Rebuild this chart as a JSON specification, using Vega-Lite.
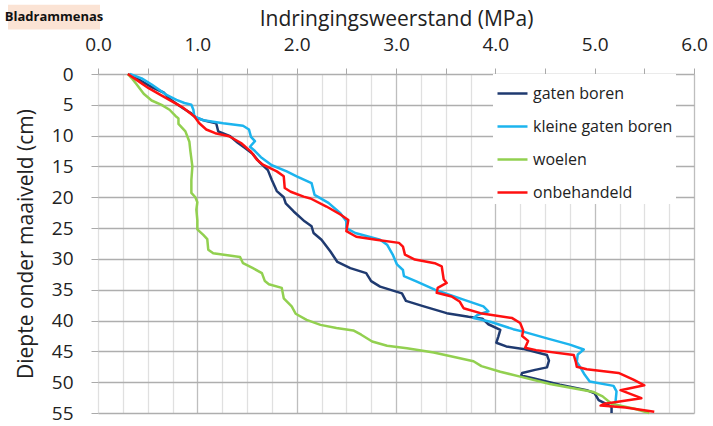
{
  "$schema": "https://vega.github.io/schema/vega-lite/v6.json",
  "width": 596,
  "height": 339,
  "autosize": "none",
  "padding": {"left": 98, "top": 74, "right": 19, "bottom": 13},
  "background": "white",
  "config": {"view": {"stroke": null}, "font": "Open Sans", "axis": {"labelFlush": false}},
  "layer": [
    {
      "data": {"values": [
    {"s":"gaten boren","x":0.30,"d":0},{"s":"gaten boren","x":0.42,"d":1.0},{"s":"gaten boren","x":0.55,"d":2.2},{"s":"gaten boren","x":0.66,"d":3.0},{"s":"gaten boren","x":0.72,"d":4.0},{"s":"gaten boren","x":0.78,"d":4.7},{"s":"gaten boren","x":0.86,"d":5.6},{"s":"gaten boren","x":0.93,"d":6.3},{"s":"gaten boren","x":0.99,"d":7.1},{"s":"gaten boren","x":1.08,"d":7.6},{"s":"gaten boren","x":1.19,"d":8.0},{"s":"gaten boren","x":1.21,"d":9.3},{"s":"gaten boren","x":1.33,"d":10.1},{"s":"gaten boren","x":1.41,"d":11.2},{"s":"gaten boren","x":1.48,"d":12.0},{"s":"gaten boren","x":1.56,"d":13.0},{"s":"gaten boren","x":1.62,"d":14.2},{"s":"gaten boren","x":1.71,"d":15.6},{"s":"gaten boren","x":1.75,"d":17.2},{"s":"gaten boren","x":1.80,"d":19.0},{"s":"gaten boren","x":1.87,"d":20.0},{"s":"gaten boren","x":1.89,"d":21.0},{"s":"gaten boren","x":1.97,"d":22.3},{"s":"gaten boren","x":2.08,"d":23.9},{"s":"gaten boren","x":2.15,"d":24.7},{"s":"gaten boren","x":2.17,"d":25.8},{"s":"gaten boren","x":2.25,"d":26.9},{"s":"gaten boren","x":2.34,"d":28.8},{"s":"gaten boren","x":2.41,"d":30.5},{"s":"gaten boren","x":2.54,"d":31.5},{"s":"gaten boren","x":2.70,"d":32.3},{"s":"gaten boren","x":2.75,"d":33.6},{"s":"gaten boren","x":2.84,"d":34.5},{"s":"gaten boren","x":3.06,"d":35.6},{"s":"gaten boren","x":3.10,"d":36.8},{"s":"gaten boren","x":3.28,"d":37.7},{"s":"gaten boren","x":3.51,"d":38.8},{"s":"gaten boren","x":3.73,"d":39.4},{"s":"gaten boren","x":3.87,"d":39.7},{"s":"gaten boren","x":3.93,"d":40.6},{"s":"gaten boren","x":4.05,"d":41.5},{"s":"gaten boren","x":4.03,"d":42.6},{"s":"gaten boren","x":4.01,"d":43.6},{"s":"gaten boren","x":4.11,"d":44.2},{"s":"gaten boren","x":4.28,"d":44.6},{"s":"gaten boren","x":4.52,"d":45.6},{"s":"gaten boren","x":4.54,"d":46.5},{"s":"gaten boren","x":4.52,"d":47.6},{"s":"gaten boren","x":4.40,"d":48.0},{"s":"gaten boren","x":4.27,"d":48.5},{"s":"gaten boren","x":4.26,"d":48.9},{"s":"gaten boren","x":4.39,"d":49.4},{"s":"gaten boren","x":4.65,"d":50.4},{"s":"gaten boren","x":4.92,"d":51.3},{"s":"gaten boren","x":5.00,"d":51.8},{"s":"gaten boren","x":5.04,"d":52.9},{"s":"gaten boren","x":5.10,"d":53.4},{"s":"gaten boren","x":5.17,"d":54.0},{"s":"gaten boren","x":5.17,"d":55.0},
    {"s":"kleine gaten boren","x":0.32,"d":0},{"s":"kleine gaten boren","x":0.44,"d":0.7},{"s":"kleine gaten boren","x":0.54,"d":1.7},{"s":"kleine gaten boren","x":0.62,"d":2.6},{"s":"kleine gaten boren","x":0.69,"d":3.4},{"s":"kleine gaten boren","x":0.79,"d":4.2},{"s":"kleine gaten boren","x":0.87,"d":4.7},{"s":"kleine gaten boren","x":0.94,"d":5.0},{"s":"kleine gaten boren","x":0.96,"d":5.8},{"s":"kleine gaten boren","x":0.97,"d":6.9},{"s":"kleine gaten boren","x":1.06,"d":7.5},{"s":"kleine gaten boren","x":1.26,"d":8.0},{"s":"kleine gaten boren","x":1.46,"d":8.4},{"s":"kleine gaten boren","x":1.52,"d":9.0},{"s":"kleine gaten boren","x":1.54,"d":10.2},{"s":"kleine gaten boren","x":1.58,"d":10.9},{"s":"kleine gaten boren","x":1.53,"d":11.8},{"s":"kleine gaten boren","x":1.58,"d":12.5},{"s":"kleine gaten boren","x":1.64,"d":13.5},{"s":"kleine gaten boren","x":1.75,"d":14.8},{"s":"kleine gaten boren","x":1.90,"d":15.8},{"s":"kleine gaten boren","x":2.00,"d":16.6},{"s":"kleine gaten boren","x":2.15,"d":17.7},{"s":"kleine gaten boren","x":2.18,"d":19.6},{"s":"kleine gaten boren","x":2.32,"d":20.9},{"s":"kleine gaten boren","x":2.44,"d":22.6},{"s":"kleine gaten boren","x":2.50,"d":23.9},{"s":"kleine gaten boren","x":2.50,"d":25.0},{"s":"kleine gaten boren","x":2.59,"d":25.8},{"s":"kleine gaten boren","x":2.84,"d":26.9},{"s":"kleine gaten boren","x":2.91,"d":27.7},{"s":"kleine gaten boren","x":2.97,"d":29.4},{"s":"kleine gaten boren","x":3.01,"d":30.9},{"s":"kleine gaten boren","x":3.07,"d":31.8},{"s":"kleine gaten boren","x":3.08,"d":32.8},{"s":"kleine gaten boren","x":3.21,"d":33.7},{"s":"kleine gaten boren","x":3.39,"d":35.0},{"s":"kleine gaten boren","x":3.68,"d":36.6},{"s":"kleine gaten boren","x":3.88,"d":37.7},{"s":"kleine gaten boren","x":3.93,"d":38.5},{"s":"kleine gaten boren","x":3.82,"d":39.1},{"s":"kleine gaten boren","x":3.78,"d":39.6},{"s":"kleine gaten boren","x":3.95,"d":40.2},{"s":"kleine gaten boren","x":4.18,"d":41.4},{"s":"kleine gaten boren","x":4.28,"d":41.8},{"s":"kleine gaten boren","x":4.52,"d":42.9},{"s":"kleine gaten boren","x":4.75,"d":43.9},{"s":"kleine gaten boren","x":4.89,"d":44.7},{"s":"kleine gaten boren","x":4.83,"d":45.5},{"s":"kleine gaten boren","x":4.82,"d":46.7},{"s":"kleine gaten boren","x":4.86,"d":47.7},{"s":"kleine gaten boren","x":4.90,"d":48.8},{"s":"kleine gaten boren","x":4.95,"d":49.9},{"s":"kleine gaten boren","x":5.19,"d":50.6},{"s":"kleine gaten boren","x":5.22,"d":51.5},{"s":"kleine gaten boren","x":5.21,"d":53.2},{"s":"kleine gaten boren","x":5.18,"d":53.8},
    {"s":"woelen","x":0.30,"d":0},{"s":"woelen","x":0.34,"d":0.7},{"s":"woelen","x":0.39,"d":1.7},{"s":"woelen","x":0.46,"d":3.2},{"s":"woelen","x":0.54,"d":4.3},{"s":"woelen","x":0.64,"d":5.0},{"s":"woelen","x":0.72,"d":5.8},{"s":"woelen","x":0.78,"d":6.8},{"s":"woelen","x":0.81,"d":7.2},{"s":"woelen","x":0.81,"d":8.1},{"s":"woelen","x":0.88,"d":9.3},{"s":"woelen","x":0.92,"d":11.0},{"s":"woelen","x":0.93,"d":12.5},{"s":"woelen","x":0.95,"d":15.0},{"s":"woelen","x":0.94,"d":17.2},{"s":"woelen","x":0.94,"d":19.3},{"s":"woelen","x":0.98,"d":20.0},{"s":"woelen","x":1.00,"d":20.8},{"s":"woelen","x":0.99,"d":22.0},{"s":"woelen","x":1.00,"d":23.7},{"s":"woelen","x":1.00,"d":25.2},{"s":"woelen","x":1.06,"d":26.1},{"s":"woelen","x":1.10,"d":26.8},{"s":"woelen","x":1.11,"d":28.5},{"s":"woelen","x":1.16,"d":29.1},{"s":"woelen","x":1.43,"d":29.7},{"s":"woelen","x":1.46,"d":30.7},{"s":"woelen","x":1.56,"d":31.5},{"s":"woelen","x":1.65,"d":32.3},{"s":"woelen","x":1.68,"d":33.6},{"s":"woelen","x":1.72,"d":34.1},{"s":"woelen","x":1.85,"d":34.7},{"s":"woelen","x":1.87,"d":36.4},{"s":"woelen","x":1.95,"d":37.7},{"s":"woelen","x":1.99,"d":38.9},{"s":"woelen","x":2.10,"d":39.9},{"s":"woelen","x":2.24,"d":40.7},{"s":"woelen","x":2.40,"d":41.2},{"s":"woelen","x":2.57,"d":41.6},{"s":"woelen","x":2.65,"d":42.3},{"s":"woelen","x":2.76,"d":43.4},{"s":"woelen","x":2.91,"d":44.1},{"s":"woelen","x":3.11,"d":44.5},{"s":"woelen","x":3.38,"d":45.2},{"s":"woelen","x":3.78,"d":46.6},{"s":"woelen","x":3.86,"d":47.4},{"s":"woelen","x":4.05,"d":48.3},{"s":"woelen","x":4.25,"d":49.1},{"s":"woelen","x":4.55,"d":50.3},{"s":"woelen","x":4.99,"d":51.6},{"s":"woelen","x":5.08,"d":52.3},{"s":"woelen","x":5.17,"d":53.5},{"s":"woelen","x":5.40,"d":54.3},{"s":"woelen","x":5.55,"d":55.0},
    {"s":"onbehandeld","x":0.30,"d":0},{"s":"onbehandeld","x":0.41,"d":1.2},{"s":"onbehandeld","x":0.51,"d":2.3},{"s":"onbehandeld","x":0.62,"d":3.3},{"s":"onbehandeld","x":0.74,"d":4.4},{"s":"onbehandeld","x":0.86,"d":5.5},{"s":"onbehandeld","x":0.97,"d":6.9},{"s":"onbehandeld","x":1.02,"d":8.0},{"s":"onbehandeld","x":1.09,"d":9.0},{"s":"onbehandeld","x":1.18,"d":9.6},{"s":"onbehandeld","x":1.32,"d":10.1},{"s":"onbehandeld","x":1.44,"d":11.2},{"s":"onbehandeld","x":1.54,"d":12.6},{"s":"onbehandeld","x":1.60,"d":13.9},{"s":"onbehandeld","x":1.66,"d":14.7},{"s":"onbehandeld","x":1.80,"d":15.8},{"s":"onbehandeld","x":1.87,"d":16.6},{"s":"onbehandeld","x":1.88,"d":18.5},{"s":"onbehandeld","x":1.94,"d":19.1},{"s":"onbehandeld","x":2.07,"d":19.9},{"s":"onbehandeld","x":2.14,"d":20.2},{"s":"onbehandeld","x":2.30,"d":21.5},{"s":"onbehandeld","x":2.44,"d":22.8},{"s":"onbehandeld","x":2.52,"d":23.7},{"s":"onbehandeld","x":2.50,"d":25.5},{"s":"onbehandeld","x":2.60,"d":26.4},{"s":"onbehandeld","x":2.80,"d":26.9},{"s":"onbehandeld","x":3.03,"d":27.4},{"s":"onbehandeld","x":3.07,"d":28.0},{"s":"onbehandeld","x":3.09,"d":29.3},{"s":"onbehandeld","x":3.19,"d":30.1},{"s":"onbehandeld","x":3.39,"d":30.7},{"s":"onbehandeld","x":3.46,"d":31.2},{"s":"onbehandeld","x":3.48,"d":33.3},{"s":"onbehandeld","x":3.51,"d":33.9},{"s":"onbehandeld","x":3.42,"d":34.7},{"s":"onbehandeld","x":3.41,"d":35.5},{"s":"onbehandeld","x":3.56,"d":36.1},{"s":"onbehandeld","x":3.64,"d":36.9},{"s":"onbehandeld","x":3.68,"d":38.0},{"s":"onbehandeld","x":3.85,"d":38.8},{"s":"onbehandeld","x":4.17,"d":39.6},{"s":"onbehandeld","x":4.25,"d":40.4},{"s":"onbehandeld","x":4.28,"d":41.6},{"s":"onbehandeld","x":4.27,"d":42.5},{"s":"onbehandeld","x":4.33,"d":43.3},{"s":"onbehandeld","x":4.30,"d":44.4},{"s":"onbehandeld","x":4.41,"d":44.8},{"s":"onbehandeld","x":4.79,"d":45.6},{"s":"onbehandeld","x":4.81,"d":46.7},{"s":"onbehandeld","x":4.82,"d":47.5},{"s":"onbehandeld","x":4.92,"d":47.9},{"s":"onbehandeld","x":5.24,"d":48.5},{"s":"onbehandeld","x":5.39,"d":49.6},{"s":"onbehandeld","x":5.50,"d":50.5},{"s":"onbehandeld","x":5.26,"d":51.3},{"s":"onbehandeld","x":5.47,"d":52.6},{"s":"onbehandeld","x":5.10,"d":53.5},{"s":"onbehandeld","x":5.06,"d":53.8},{"s":"onbehandeld","x":5.31,"d":54.1},{"s":"onbehandeld","x":5.60,"d":54.8}
      ]},
      "mark": {"type": "line", "strokeWidth": 2.5, "strokeJoin": "round"},
      "encoding": {
        "x": {
          "field": "x", "type": "quantitative",
          "scale": {"domain": [0, 6], "nice": false, "zero": false},
          "axis": {
            "orient": "top",
            "title": "Indringingsweerstand (MPa)",
            "values": [0,0.25,0.5,0.75,1,1.25,1.5,1.75,2,2.25,2.5,2.75,3,3.25,3.5,3.75,4,4.25,4.5,4.75,5,5.25,5.5,5.75,6],
            "labelExpr": "datum.value % 1 === 0 ? format(datum.value, '.1f') : ''",
            "labelOverlap": false,
            "labelFlush": false,
            "labelFontSize": 19,
            "labelColor": "#222",
            "labelPadding": 14,
            "tickSize": 6,
            "tickColor": "#AAAAAA",
            "tickOpacity": {"condition": {"test": "datum.value % 0.5 === 0", "value": 1}, "value": 0},
            "grid": true,
            "gridColor": {"condition": {"test": "datum.value % 1 === 0 && datum.value > 0", "value": "#BEBEBE"}, "value": "#E0E0E0"},
            "gridWidth": 1.3,
            "domain": false,
            "titleFontSize": 21,
            "titleFontWeight": "normal",
            "titleColor": "#222",
            "titlePadding": 6
          }
        },
        "y": {
          "field": "d", "type": "quantitative",
          "scale": {"domain": [0, 55], "reverse": true, "nice": false, "zero": false},
          "axis": {
            "values": [0,5,10,15,20,25,30,35,40,45,50,55],
            "title": "Diepte onder maaiveld (cm)",
            "labelFlush": false,
            "labelFontSize": 19,
            "labelColor": "#222",
            "labelPadding": 18,
            "tickSize": 7,
            "tickColor": "#AAAAAA",
            "grid": true,
            "gridColor": "#AEAEAE",
            "gridWidth": 1.3,
            "domain": false,
            "titleFontSize": 21,
            "titleFontWeight": "normal",
            "titleColor": "#222",
            "titlePadding": 15
          }
        },
        "color": {
          "field": "s", "type": "nominal",
          "scale": {"domain": ["gaten boren", "kleine gaten boren", "woelen", "onbehandeld"], "range": ["#1F3A70", "#1CB4EE", "#92D050", "#FF1010"]},
          "legend": {
            "orient": "none", "legendX": 395, "legendY": 0,
            "title": null,
            "symbolType": "stroke", "symbolStrokeWidth": 2.5, "symbolSize": 900,
            "labelFontSize": 16, "labelColor": "#222", "labelOffset": 4,
            "fillColor": "white", "padding": 3, "rowPadding": 8
          }
        },
        "order": {"field": "d", "type": "quantitative"}
      }
    },
    {
      "data": {"values": [{"label": "Bladrammenas", "x0": -0.906, "x1": 0.02, "y0": -11.25, "y1": -7.2, "xm": -0.443, "ym": -9.25}]},
      "layer": [
        {
          "mark": {"type": "rect", "color": "#FBE3D4"},
          "encoding": {
            "x": {"field": "x0", "type": "quantitative", "scale": {"domain": [0, 6], "nice": false, "zero": false}, "axis": {"orient": "top", "title": "Indringingsweerstand (MPa)", "values": [0,0.25,0.5,0.75,1,1.25,1.5,1.75,2,2.25,2.5,2.75,3,3.25,3.5,3.75,4,4.25,4.5,4.75,5,5.25,5.5,5.75,6]}},
            "x2": {"field": "x1"},
            "y": {"field": "y0", "type": "quantitative", "scale": {"domain": [0, 55], "reverse": true, "nice": false, "zero": false}, "axis": {"title": "Diepte onder maaiveld (cm)", "values": [0,5,10,15,20,25,30,35,40,45,50,55]}},
            "y2": {"field": "y1"}
          }
        },
        {
          "mark": {"type": "text", "fontWeight": "bold", "fontSize": 13, "fill": "#111", "align": "center", "baseline": "middle"},
          "encoding": {
            "x": {"field": "xm", "type": "quantitative", "scale": {"domain": [0, 6], "nice": false, "zero": false}, "axis": {"orient": "top", "title": "Indringingsweerstand (MPa)", "values": [0,0.25,0.5,0.75,1,1.25,1.5,1.75,2,2.25,2.5,2.75,3,3.25,3.5,3.75,4,4.25,4.5,4.75,5,5.25,5.5,5.75,6]}},
            "y": {"field": "ym", "type": "quantitative", "scale": {"domain": [0, 55], "reverse": true, "nice": false, "zero": false}, "axis": {"title": "Diepte onder maaiveld (cm)", "values": [0,5,10,15,20,25,30,35,40,45,50,55]}},
            "text": {"field": "label"}
          }
        }
      ]
    }
  ]
}
